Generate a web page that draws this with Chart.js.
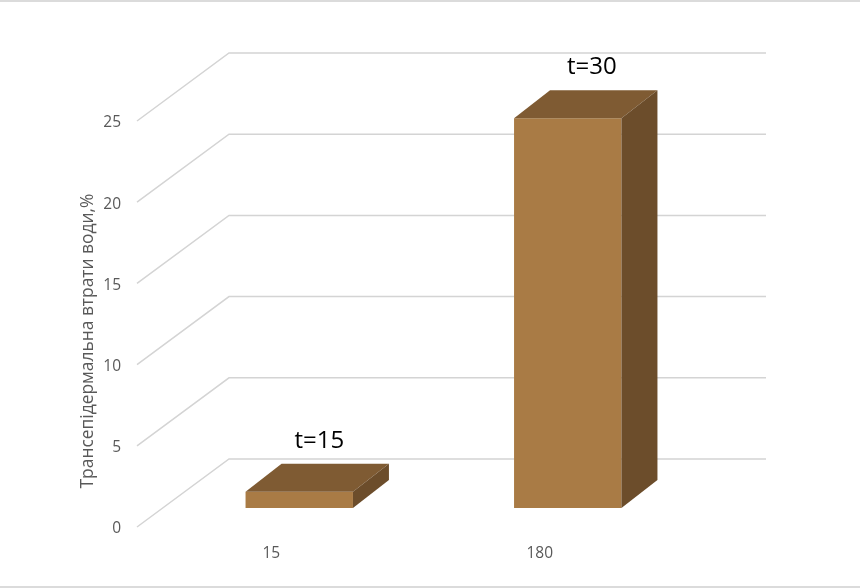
<!DOCTYPE html>
<html>
<head>
<meta charset="utf-8">
<style>
  html, body { margin: 0; padding: 0; background: #fff; }
  #wrap { width: 860px; height: 588px; position: relative; }
</style>
</head>
<body>
<div id="wrap"><canvas id="chart"></canvas></div>
<script src="https://cdn.jsdelivr.net/npm/chart.js@4"></script>
<script>
const ctx = document.getElementById("chart").getContext("2d");

// Data
const categories = ["15", "180"];
const values = [1, 24];
const barNotes = ["t=15", "t=30"];
const yTicks = [0, 5, 10, 15, 20, 25];
const yTitle = "Трансепідермальна втрати води,%";

// Fake 3D: wall depth, bar depth, and where the bar sits on the floor
const wallDepth = { x: 92, y: -68 };
const barDepth = { x: 36, y: -28 };
const barShift = { x: 28, y: -19 };
const noteShiftX = [20, 24];

const FRONT = "#a97b45", TOP = "#7f5b33", SIDE = "#6c4d2b", GRID = "#d4d4d4";
const TEXT = "#595959";

function poly(c, pts, color) {
  c.fillStyle = color;
  c.beginPath();
  pts.forEach((p, i) => i ? c.lineTo(p[0], p[1]) : c.moveTo(p[0], p[1]));
  c.closePath();
  c.fill();
}

const fake3d = {
  id: "fake3d",
  // page frame lines, the back walls and the axis title
  beforeDatasetsDraw(chart) {
    const c = chart.ctx, y = chart.scales.y, area = chart.chartArea;
    c.save();
    c.strokeStyle = "#cfcfcf";
    c.lineWidth = 1.5;
    c.beginPath();
    c.moveTo(0, 1); c.lineTo(860, 1);
    c.moveTo(0, 587); c.lineTo(860, 587);
    c.stroke();

    c.strokeStyle = GRID;
    yTicks.forEach(t => {
      const py = y.getPixelForValue(t);
      c.beginPath();
      c.moveTo(area.left, py);
      c.lineTo(area.left + wallDepth.x, py + wallDepth.y);
      c.lineTo(area.right + wallDepth.x, py + wallDepth.y);
      c.stroke();
    });

    c.translate(88, 341);
    c.rotate(-Math.PI / 2);
    c.fillStyle = TEXT;
    c.font = "17.4px 'Open Sans'";
    c.textAlign = "center";
    c.textBaseline = "middle";
    c.fillText(yTitle, 0, 0);
    c.restore();
  },
  beforeDatasetDraw(chart) {
    chart.ctx.save();
    chart.ctx.translate(barShift.x, barShift.y);
  },
  afterDatasetDraw(chart) {
    const c = chart.ctx;
    chart.getDatasetMeta(0).data.forEach((bar, i) => {
      const l = bar.x - bar.width / 2, r = bar.x + bar.width / 2;
      const t = bar.y, b = bar.base;
      const dx = barDepth.x, dy = barDepth.y;
      poly(c, [[l, t], [r, t], [r + dx, t + dy], [l + dx, t + dy]], TOP);
      poly(c, [[r, t], [r + dx, t + dy], [r + dx, b + dy], [r, b]], SIDE);
      c.fillStyle = "#000";
      c.font = "24px 'Open Sans'";
      c.textAlign = "center";
      c.textBaseline = "middle";
      c.fillText(barNotes[i], bar.x + noteShiftX[i], t - 51);
    });
    c.restore();
  }
};

new Chart(ctx, {
  type: "bar",
  data: {
    labels: categories,
    datasets: [{
      data: values,
      backgroundColor: FRONT,
      categoryPercentage: 1,
      barPercentage: 0.4
    }]
  },
  options: {
    responsive: true,
    maintainAspectRatio: false,
    animation: false,
    layout: { padding: { top: 121, right: 186, left: 0, bottom: 0 } },
    plugins: { legend: { display: false }, tooltip: { enabled: false } },
    scales: {
      x: {
        grid: { display: false },
        border: { display: false },
        ticks: { color: TEXT, font: { family: "Open Sans", size: 15.5 }, padding: 9, maxRotation: 0 },
        afterFit(scale) { scale.height = 61; }
      },
      y: {
        min: 0,
        max: 25,
        afterBuildTicks(scale) { scale.ticks = yTicks.map(v => ({ value: v })); },
        grid: { display: false },
        border: { display: false },
        ticks: { color: TEXT, font: { family: "Open Sans", size: 15.5 }, padding: 8, labelOffset: 2 },
        afterFit(scale) { scale.width = 137; }
      }
    }
  },
  plugins: [fake3d]
});
</script>
</body>
</html>
